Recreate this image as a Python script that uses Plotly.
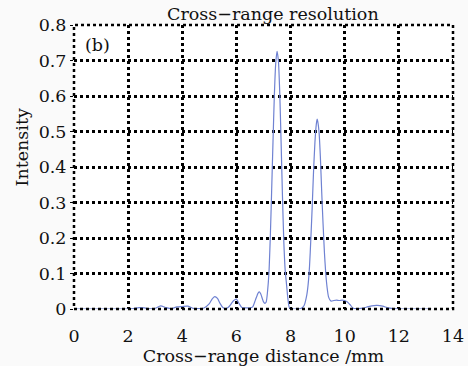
import plotly.graph_objects as go

# Cross-range distance (mm) and intensity
x_mm = [0.0, 1.0, 2.0, 2.2, 2.4, 2.6, 2.8, 3.0, 3.2, 3.4, 3.6, 3.8, 4.0, 4.2, 4.4, 4.6, 4.8,
        5.0, 5.1, 5.2, 5.3, 5.4, 5.5, 5.6, 5.7, 5.8, 5.9, 6.0, 6.1, 6.2, 6.3, 6.4, 6.5, 6.6,
        6.7, 6.8, 6.85, 6.9, 7.0, 7.05, 7.1, 7.15, 7.2, 7.25, 7.3, 7.35, 7.4, 7.45, 7.5,
        7.55, 7.6, 7.65, 7.7, 7.75, 7.8, 7.85, 7.9, 7.95, 8.0, 8.1, 8.2, 8.3, 8.4, 8.5,
        8.6, 8.65, 8.7, 8.75, 8.8, 8.85, 8.9, 8.95, 8.98, 9.0, 9.05, 9.1, 9.15, 9.2, 9.25,
        9.3, 9.35, 9.4, 9.45, 9.5, 9.6, 9.7, 9.8, 9.9, 10.0, 10.1, 10.2, 10.3, 10.4, 10.6,
        10.8, 11.0, 11.2, 11.4, 11.6, 11.8, 12.0, 12.5, 13.2]
intensity = [0.0, 0.0, 0.0, 0.001, 0.004, 0.003, 0.0005, 0.002, 0.009, 0.004, 0.001, 0.006,
             0.007, 0.008, 0.002, 0.001, 0.003, 0.015, 0.028, 0.035, 0.03, 0.015, 0.004, 0.001,
             0.005, 0.014, 0.024, 0.028, 0.015, 0.004, 0.003, 0.003, 0.003, 0.006, 0.025, 0.045,
             0.048, 0.042, 0.02, 0.016, 0.02, 0.05, 0.1, 0.2, 0.33, 0.47, 0.6, 0.69, 0.726,
             0.70, 0.61, 0.47, 0.32, 0.19, 0.11, 0.07, 0.03, 0.005, 0.001, 0.0, 0.0, 0.0, 0.002,
             0.01, 0.04, 0.07, 0.12, 0.2, 0.29, 0.39, 0.47, 0.52, 0.535, 0.53, 0.5, 0.43, 0.33,
             0.24, 0.16, 0.1, 0.06, 0.035, 0.026, 0.022, 0.024, 0.025, 0.024, 0.025, 0.024,
             0.02, 0.012, 0.003, 0.001, 0.002, 0.005, 0.009, 0.01, 0.008, 0.003, 0.001, 0.0,
             0.0, 0.0]

x_ticks = [0, 2, 4, 6, 8, 10, 12, 14]
y_ticks = [0, 0.1, 0.2, 0.3, 0.4, 0.5, 0.6, 0.7, 0.8]
y_tick_text = ["0", "0.1", "0.2", "0.3", "0.4", "0.5", "0.6", "0.7", "0.8"]

FONT = "DejaVu Serif"
FS = 17.5

fig = go.Figure()
fig.add_trace(go.Scatter(x=x_mm, y=intensity, mode="lines",
                         line=dict(color="#6f82d2", width=1.2, shape="spline", smoothing=0.6),
                         showlegend=False))

fig.update_layout(
    width=468, height=366,
    margin=dict(l=74, r=15, t=25, b=57),
    paper_bgcolor="#fafafa", plot_bgcolor="#ffffff",
    font=dict(family=FONT, size=FS, color="#111111"),
    title=dict(text="Cross\u2212range resolution", x=0.583, xanchor="center",
               y=0.962, yanchor="middle", font=dict(family=FONT, size=FS)),
    xaxis=dict(range=[0, 14], tickvals=x_ticks, showgrid=True, gridcolor="#000000",
               griddash="dot", gridwidth=2.5, zeroline=False, showline=False,
               ticks="", tickfont=dict(size=FS), ticklabelstandoff=14, automargin=False,
               title=dict(text="Cross\u2212range distance /mm", font=dict(size=FS), standoff=4)),
    yaxis=dict(range=[0, 0.8], tickvals=y_ticks, ticktext=y_tick_text, showgrid=True,
               gridcolor="#000000", griddash="dot", gridwidth=2.5, zeroline=False,
               showline=False, ticks="outside", ticklen=3, tickcolor="#000000",
               tickfont=dict(size=FS), automargin=False),
    shapes=[dict(type="rect", xref="x domain", yref="y domain", x0=0, x1=1, y0=0, y1=1,
                 line=dict(color="#000000", width=2.5, dash="dot"), layer="above")],
    annotations=[
        dict(text="Intensity", xref="paper", yref="paper", x=-0.1385, y=0.567,
             xanchor="center", yanchor="middle",
             textangle=-90, showarrow=False, font=dict(family=FONT, size=FS)),
        dict(text="(b)", xref="x", yref="y", x=0.85, y=0.745, showarrow=False,
             font=dict(family=FONT, size=FS)),
    ],
)

fig.write_html("out.html")
